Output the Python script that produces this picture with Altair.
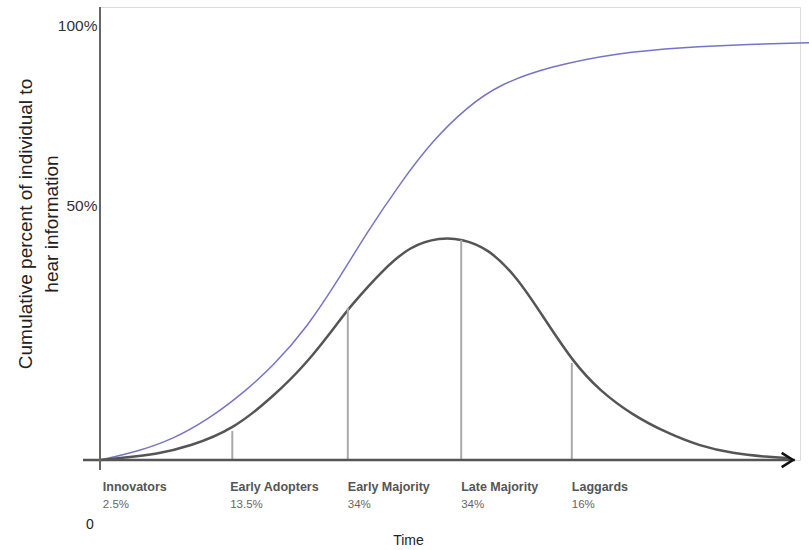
import altair as alt
import pandas as pd

# Cumulative adoption (blue S-curve): time units vs percent
blue_t = [0, 5.7, 10.4, 15.3, 20.0, 24.7, 29.6, 34.3, 38.1, 42.9, 47.6, 52.4, 57.1, 64.3, 73.9, 83.3, 92.9, 101.3]
blue_y = [0, 2.1, 4.8, 9.2, 14.8, 21.5, 30.5, 42.1, 52.2, 63.7, 73.6, 81.1, 86.4, 90.5, 93.6, 94.9, 95.6, 95.9]

# Adoption bell curve (gray)
bell_t = [0, 3.3, 8.1, 12.9, 18.9, 24.7, 29.6, 34.3, 35.7, 40.4, 44.3, 48.6, 51.7, 55.3, 59.6, 63.6, 67.6, 71.4, 76.1, 81.0, 85.7, 90.4, 95.3, 98.6]
bell_y = [0, 0.5, 1.3, 3.2, 6.9, 14.5, 22.3, 32.2, 35.2, 43.7, 49.2, 51.2, 50.8, 48.8, 42.1, 32.2, 22.5, 15.9, 10.3, 6.2, 3.2, 1.5, 0.7, 0.4]

# Segment dividers
div_t = [18.9, 35.4, 51.6, 67.4]
div_top = [6.7, 35.0, 50.6, 22.3]

# Segment labels
seg_names = ["Innovators", "Early Adopters", "Early Majority", "Late Majority", "Laggards"]
seg_pcts = ["2.5%", "13.5%", "34%", "34%", "16%"]
seg_t = [0.4, 18.6, 35.4, 51.6, 67.4]

# Y tick labels
ytick_vals = [58.6, 100]

Y_MAX = 104.14
X_MIN, X_MAX = 0, 100

blue_df = pd.DataFrame({"t": blue_t, "y": blue_y})
bell_df = pd.DataFrame({"t": bell_t, "y": bell_y})
div_df = pd.DataFrame({"t": div_t, "y0": [0] * len(div_t), "y1": div_top})
seg_df = pd.DataFrame({"t": seg_t, "name": seg_names, "pct": seg_pcts})

xs = alt.Scale(domain=[X_MIN, X_MAX], nice=False, zero=False)
ys = alt.Scale(domain=[0, Y_MAX], nice=False, zero=False)

label_expr = "datum.value > 80 ? '100%' : '50%'"

base_x = alt.X("t:Q", scale=xs,
               axis=alt.Axis(title="Time", labels=False, ticks=False, domain=False, grid=False,
                             titleFont="Liberation Sans", titleFontSize=14, titleFontWeight="normal",
                             titleColor="#222", titleX=308, titleY=80, titleBaseline="middle"))
base_y = alt.Y("y:Q", scale=ys,
               axis=alt.Axis(title=None, values=ytick_vals, labelExpr=label_expr, ticks=False,
                             domain=False, grid=False, labelFont="Liberation Sans", labelFontSize=15.5,
                             labelColor="#333", labelPadding=3))

blue = alt.Chart(blue_df).mark_line(color="#7674c8", strokeWidth=1.5, interpolate="basis", clip=False).encode(
    x=base_x, y=base_y)

bell = alt.Chart(bell_df).mark_line(color="#555555", strokeWidth=2.5, interpolate="basis").encode(
    x=alt.X("t:Q", scale=xs), y=alt.Y("y:Q", scale=ys))

divs = alt.Chart(div_df).mark_rule(color="#aaaaaa", strokeWidth=2).encode(
    x=alt.X("t:Q", scale=xs), y=alt.Y("y0:Q", scale=ys), y2="y1:Q")

axis_df = pd.DataFrame({"x0": [-2.43], "x1": [99.3], "y": [0]})
xaxis = alt.Chart(axis_df).mark_rule(color="#555555", strokeWidth=2.5, clip=False).encode(
    x=alt.X("x0:Q", scale=xs), x2="x1:Q", y=alt.Y("y:Q", scale=ys))

yaxis_df = pd.DataFrame({"x": [0], "y0": [-2.3], "y1": [Y_MAX]})
yaxis = alt.Chart(yaxis_df).mark_rule(color="#666666", strokeWidth=2, clip=False).encode(
    x=alt.X("x:Q", scale=xs), y=alt.Y("y0:Q", scale=ys), y2="y1:Q")

arrow_df = pd.DataFrame({"t": [99.0], "y": [0]})
arrow = alt.Chart(arrow_df).mark_point(shape="M-1.6,-1L0,0L-1.6,1", filled=False, size=200,
                                       stroke="#111111", strokeWidth=2.5, opacity=1, clip=False).encode(
    x=alt.X("t:Q", scale=xs), y=alt.Y("y:Q", scale=ys))

names = alt.Chart(seg_df).mark_text(align="left", baseline="middle", font="Liberation Sans",
                                    fontSize=12.5, fontWeight="bold", color="#555555").encode(
    x=alt.X("t:Q", scale=xs), y=alt.value(480), text="name:N")
pcts = alt.Chart(seg_df).mark_text(align="left", baseline="middle", font="Liberation Sans",
                                   fontSize=11.5, color="#666666").encode(
    x=alt.X("t:Q", scale=xs), y=alt.value(498), text="pct:N")

zero_df = pd.DataFrame({"t": [0], "txt": ["0"]})
zero = alt.Chart(zero_df).mark_text(align="center", baseline="middle", font="Liberation Sans",
                                    fontSize=14, color="#222222", dx=-10).encode(
    x=alt.X("t:Q", scale=xs), y=alt.value(518), text="txt:N")

ytitle_df = pd.DataFrame({"txt": ["Cumulative percent of individual to\nhear information"]})
ytitle = alt.Chart(ytitle_df).mark_text(angle=270, align="center", baseline="middle", lineBreak="\n",
                                        font="Liberation Sans", fontSize=19, color="#222222",
                                        lineHeight=26).encode(
    x=alt.value(-74), y=alt.value(217), text="txt:N")

chart = alt.layer(blue, bell, divs, xaxis, yaxis, arrow, names, pcts, zero, ytitle).properties(
    width=700, height=453,
    autosize=alt.AutoSizeParams(type="none"),
    padding={"left": 100, "top": 7, "right": 9, "bottom": 90},
).configure_view(stroke=None).configure(background="white")

chart.save("out.html", embed_options={"renderer": "svg", "actions": False})
